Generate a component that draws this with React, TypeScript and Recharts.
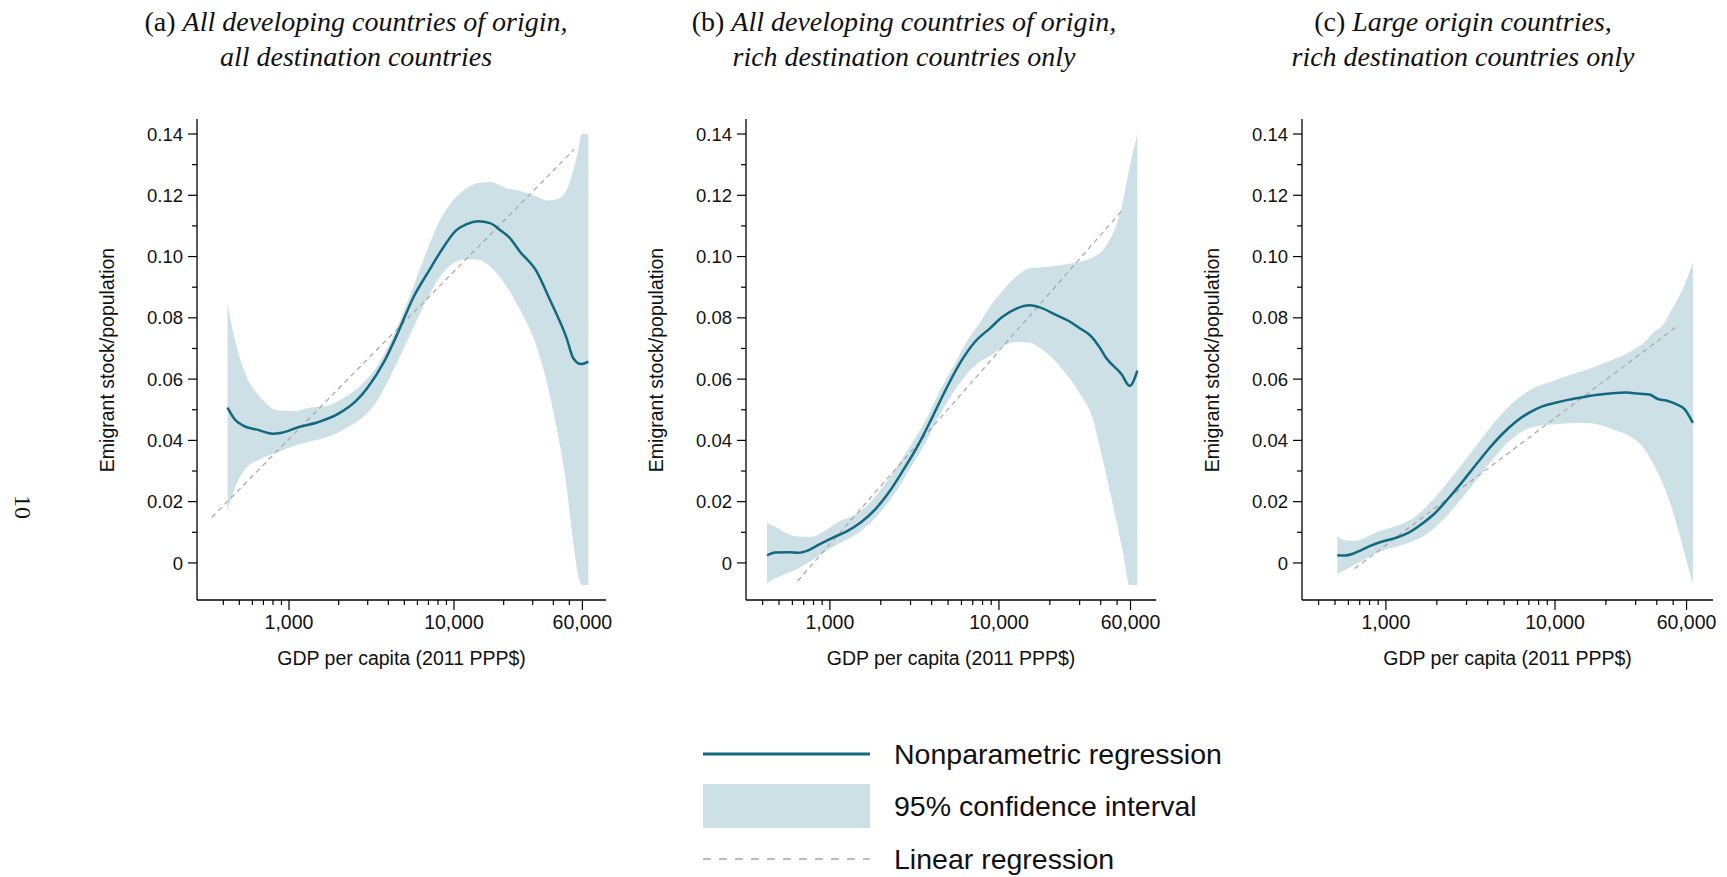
import { ComposedChart, Area, Line, XAxis, YAxis } from 'recharts';

// panel (a): all origins, all destinations
const A_BAND_X = [424, 467, 539, 677, 852, 1071, 1347, 1695, 2130, 2680, 3370, 4240, 5330, 6700, 8220, 9900, 11940, 14200, 16700, 20840, 25120, 31700, 36500, 41900, 48170, 52830, 56650, 59400, 65200];
const A_HI = [0.0845, 0.0736, 0.0623, 0.0538, 0.0498, 0.0495, 0.0507, 0.0512, 0.0538, 0.0576, 0.0637, 0.0736, 0.0864, 0.1005, 0.1119, 0.1185, 0.1223, 0.1241, 0.1243, 0.1223, 0.1214, 0.1196, 0.1183, 0.1187, 0.1217, 0.1283, 0.1348, 0.14, 0.14];
const A_LO = [0.017, 0.0241, 0.0304, 0.034, 0.0361, 0.0382, 0.0396, 0.041, 0.0435, 0.0467, 0.0524, 0.0623, 0.0736, 0.0849, 0.0934, 0.0978, 0.0991, 0.0989, 0.0966, 0.0902, 0.0826, 0.0706, 0.059, 0.044, 0.0249, 0.0065, -0.004, -0.0072, -0.0072];
const A_FIT_X = [424, 467, 524, 640, 795, 902, 1135, 1510, 2010, 2530, 3000, 3780, 4620, 5640, 7090, 8220, 10380, 11940, 14030, 16530, 19010, 21700, 25120, 31700, 38190, 48170, 52830, 58870, 65200];
const A_FIT = [0.0507, 0.047, 0.0449, 0.0435, 0.0422, 0.0425, 0.0443, 0.046, 0.0488, 0.0527, 0.0573, 0.0658, 0.0757, 0.0864, 0.0956, 0.1013, 0.1087, 0.1106, 0.1115, 0.1109, 0.1087, 0.1062, 0.1016, 0.0951, 0.0858, 0.0733, 0.0668, 0.0649, 0.0657];
const A_LIN_X = [341, 53500];
const A_LIN = [0.0149, 0.135];

// panel (b): all origins, rich destinations
const B_BAND_X = [425, 476, 550, 652, 773, 939, 1140, 1385, 1682, 2040, 2480, 3010, 3660, 4440, 5400, 6550, 7960, 8810, 10560, 12670, 15200, 18200, 23900, 30040, 36010, 39410, 45100, 50660, 54260, 59330, 65880];
const B_HI = [0.013, 0.0118, 0.0098, 0.0086, 0.0085, 0.0106, 0.0136, 0.0155, 0.0191, 0.0245, 0.0312, 0.0384, 0.0463, 0.0559, 0.0644, 0.0728, 0.0795, 0.0835, 0.089, 0.0935, 0.0962, 0.0965, 0.0973, 0.0983, 0.0998, 0.1011, 0.1054, 0.1119, 0.1185, 0.1293, 0.14];
const B_LO = [-0.0066, -0.005, -0.0035, -0.0018, 0.0006, 0.0037, 0.0064, 0.0088, 0.0124, 0.0173, 0.0236, 0.0312, 0.039, 0.0481, 0.0559, 0.062, 0.0662, 0.0675, 0.0706, 0.0722, 0.0719, 0.0695, 0.063, 0.0554, 0.0467, 0.038, 0.024, 0.011, 0.0032, -0.0072, -0.0072];
const B_FIT_X = [425, 476, 578, 652, 736, 851, 1035, 1257, 1527, 1855, 2250, 2735, 3320, 4030, 4900, 5940, 7220, 8810, 10560, 12670, 15200, 17420, 21870, 26200, 30040, 35240, 39560, 43220, 52980, 59330, 65880];
const B_FIT = [0.0025, 0.0034, 0.0035, 0.0033, 0.004, 0.0058, 0.0082, 0.0103, 0.0133, 0.0175, 0.0233, 0.0306, 0.0384, 0.0475, 0.0571, 0.0656, 0.0722, 0.0765, 0.0804, 0.083, 0.0841, 0.0834, 0.0809, 0.0788, 0.0766, 0.0739, 0.0702, 0.0668, 0.0617, 0.0578, 0.0628];
const B_LIN_X = [645, 53700];
const B_LIN = [-0.0059, 0.1152];

// panel (c): large origins, rich destinations
const C_BAND_X = [516, 570, 654, 750, 860, 1032, 1239, 1487, 1785, 2140, 2570, 3090, 3700, 4440, 5330, 6400, 7680, 9220, 11070, 13280, 15940, 19130, 22960, 27560, 33070, 37930, 44460, 47650, 54650, 59900, 65400];
const C_HI = [0.0088, 0.0074, 0.0072, 0.0082, 0.0098, 0.0112, 0.0127, 0.0151, 0.0191, 0.0239, 0.0294, 0.0351, 0.0408, 0.0463, 0.0511, 0.0547, 0.0574, 0.0589, 0.0605, 0.062, 0.0634, 0.065, 0.0668, 0.0688, 0.0716, 0.075, 0.0783, 0.0815, 0.0873, 0.0922, 0.0982];
const C_LO = [-0.0036, -0.0024, -0.0006, 0.0012, 0.0028, 0.0046, 0.0058, 0.0074, 0.0098, 0.0136, 0.0185, 0.0239, 0.0294, 0.0348, 0.0396, 0.0429, 0.0445, 0.0451, 0.0454, 0.0457, 0.0456, 0.0448, 0.0432, 0.0414, 0.0378, 0.0325, 0.0245, 0.02, 0.009, 0.0008, -0.0069];
const C_FIT_X = [516, 570, 639, 717, 822, 942, 1131, 1357, 1629, 1955, 2346, 2816, 3380, 4055, 4865, 5840, 7010, 8410, 10090, 12110, 14530, 17450, 21920, 26300, 31570, 36160, 40540, 45400, 52100, 58400, 65400];
const C_FIT = [0.0025, 0.0024, 0.003, 0.0042, 0.0057, 0.0069, 0.0081, 0.0098, 0.0127, 0.0163, 0.0211, 0.0263, 0.0318, 0.0372, 0.042, 0.046, 0.049, 0.0511, 0.0523, 0.0533, 0.0541, 0.0548, 0.0554, 0.0556, 0.0552, 0.055, 0.0535, 0.053, 0.0518, 0.0502, 0.0457];
const C_LIN_X = [655, 52600];
const C_LIN = [-0.0018, 0.0772];

const X_MAJOR = [1000, 10000, 60000];
const X_TICKS = [400, 500, 600, 700, 800, 900, 1000, 2000, 3000, 4000, 5000, 6000, 7000, 8000, 9000, 10000, 20000, 30000, 40000, 50000, 60000];
const Y_TICKS = [0, 0.01, 0.02, 0.03, 0.04, 0.05, 0.06, 0.07, 0.08, 0.09, 0.1, 0.11, 0.12, 0.13, 0.14];
const Y_DOMAIN: [number, number] = [-0.0121, 0.1449];

const FIT_COLOR = '#12687e';
const BAND_COLOR = '#cde0e6';
const LIN_COLOR = '#a6a6a6';
const SANS = '"Liberation Sans", Arial, sans-serif';
const SERIF = '"Liberation Serif", "Times New Roman", serif';

const toRows = (xs: number[], ys: number[]) => xs.map((x, i) => ({ x, y: ys[i] }));

function XTick(props: any) {
  const { x, y, payload } = props;
  const major = X_MAJOR.includes(payload.value);
  return (
    <g>
      <line x1={x} x2={x} y1={y} y2={y + (major ? 10 : 5)} stroke="#000" strokeWidth={1.2} />
      {major && (
        <text x={x} y={y + 29} textAnchor="middle" fontSize={19.5} fontFamily={SANS} fill="#111">
          {payload.value.toLocaleString('en-US')}
        </text>
      )}
    </g>
  );
}

function YTick(props: any) {
  const { x, y, payload } = props;
  const v = payload.value;
  const major = Math.round(v * 100) % 2 === 0;
  return (
    <g>
      <line x1={x} x2={x - (major ? 9 : 5)} y1={y} y2={y} stroke="#000" strokeWidth={1.2} />
      {major && (
        <text x={x - 14} y={y} dy="0.36em" textAnchor="end" fontSize={18.5} fontFamily={SANS} fill="#111">
          {v === 0 ? '0' : v.toFixed(2)}
        </text>
      )}
    </g>
  );
}

type PanelProps = {
  plotLeft: number;
  plotW: number;
  xDomain: [number, number];
  bandX: number[];
  lo: number[];
  hi: number[];
  fitX: number[];
  fit: number[];
  linX: number[];
  lin: number[];
  tag: string;
  title1: string;
  title2: string;
  titleX: number;
};

function Panel(p: PanelProps) {
  const band = p.bandX.map((x, i) => ({ x, ci: [p.lo[i], p.hi[i]] }));
  const chartLeft = p.plotLeft - 97;
  return (
    <>
      <div style={{ position: 'absolute', left: chartLeft, top: 100 }}>
        <ComposedChart width={97 + p.plotW + 14} height={540} margin={{ top: 19, right: 14, bottom: 0, left: 0 }}>
          <XAxis
            dataKey="x"
            type="number"
            scale="log"
            domain={p.xDomain}
            allowDataOverflow
            ticks={X_TICKS}
            interval={0}
            tick={(t: any) => <XTick {...t} />}
            tickSize={0}
            tickMargin={0}
            tickLine={false}
            axisLine={{ stroke: '#000', strokeWidth: 1.3 }}
            height={40}
          />
          <YAxis
            type="number"
            domain={Y_DOMAIN}
            allowDataOverflow
            ticks={Y_TICKS}
            interval={0}
            tick={(t: any) => <YTick {...t} />}
            tickSize={0}
            tickMargin={0}
            tickLine={false}
            axisLine={{ stroke: '#000', strokeWidth: 1.3 }}
            width={97}
          />
          <Area data={band} dataKey="ci" type="monotone" fill={BAND_COLOR} fillOpacity={1} stroke="none" isAnimationActive={false} />
          <Line data={toRows(p.linX, p.lin)} dataKey="y" type="linear" stroke={LIN_COLOR} strokeWidth={1.2} strokeDasharray="5 4" dot={false} isAnimationActive={false} />
          <Line data={toRows(p.fitX, p.fit)} dataKey="y" type="monotone" stroke={FIT_COLOR} strokeWidth={2.5} dot={false} isAnimationActive={false} />
        </ComposedChart>
      </div>
      <div style={{ position: 'absolute', left: p.titleX - 320, top: 4, width: 640, textAlign: 'center', fontFamily: SERIF, fontSize: 28, lineHeight: '35px', color: '#111' }}>
        <div>{p.tag} <i>{p.title1}</i></div>
        <div><i>{p.title2}</i></div>
      </div>
      <div style={{ position: 'absolute', left: p.plotLeft - 90, top: 360, transform: 'translate(-50%, -50%) rotate(-90deg)', whiteSpace: 'nowrap', fontFamily: SANS, fontSize: 19.5, color: '#111' }}>
        Emigrant stock/population
      </div>
      <div style={{ position: 'absolute', left: p.plotLeft + p.plotW / 2, top: 648, transform: 'translateX(-50%)', whiteSpace: 'nowrap', fontFamily: SANS, fontSize: 19.5, lineHeight: '20px', color: '#111' }}>
        GDP per capita (2011 PPP$)
      </div>
    </>
  );
}

function Legend() {
  return (
    <svg width={620} height={142} style={{ position: 'absolute', left: 700, top: 735 }}>
      <line x1={3} x2={170} y1={19} y2={19} stroke={FIT_COLOR} strokeWidth={3} />
      <rect x={3} y={49} width={167} height={44} fill={BAND_COLOR} />
      <line x1={3} x2={170} y1={124} y2={124} stroke={LIN_COLOR} strokeWidth={1.5} strokeDasharray="8 8" />
      <text x={194} y={19} dy="0.36em" fontSize={28.5} fontFamily={SANS} fill="#111">Nonparametric regression</text>
      <text x={194} y={71} dy="0.36em" fontSize={28.5} fontFamily={SANS} fill="#111">95% confidence interval</text>
      <text x={194} y={124} dy="0.36em" fontSize={28.5} fontFamily={SANS} fill="#111">Linear regression</text>
    </svg>
  );
}

export default function App() {
  return (
    <div style={{ position: 'absolute', left: 0, top: 0, width: 1727, height: 877, background: '#fff', overflow: 'hidden' }}>
      <Panel
        plotLeft={197}
        plotW={409}
        xDomain={[277, 83400]}
        bandX={A_BAND_X}
        lo={A_LO}
        hi={A_HI}
        fitX={A_FIT_X}
        fit={A_FIT}
        linX={A_LIN_X}
        lin={A_LIN}
        tag="(a)"
        title1="All developing countries of origin,"
        title2="all destination countries"
        titleX={356}
      />
      <Panel
        plotLeft={746}
        plotW={410}
        xDomain={[319, 84900]}
        bandX={B_BAND_X}
        lo={B_LO}
        hi={B_HI}
        fitX={B_FIT_X}
        fit={B_FIT}
        linX={B_LIN_X}
        lin={B_LIN}
        tag="(b)"
        title1="All developing countries of origin,"
        title2="rich destination countries only"
        titleX={904}
      />
      <Panel
        plotLeft={1302}
        plotW={411}
        xDomain={[319, 86000]}
        bandX={C_BAND_X}
        lo={C_LO}
        hi={C_HI}
        fitX={C_FIT_X}
        fit={C_FIT}
        linX={C_LIN_X}
        lin={C_LIN}
        tag="(c)"
        title1="Large origin countries,"
        title2="rich destination countries only"
        titleX={1463}
      />
      <Legend />
      <div style={{ position: 'absolute', left: 22, top: 507, transform: 'translate(-50%, -50%) rotate(90deg)', fontFamily: SERIF, fontSize: 24, color: '#111' }}>
        10
      </div>
    </div>
  );
}
